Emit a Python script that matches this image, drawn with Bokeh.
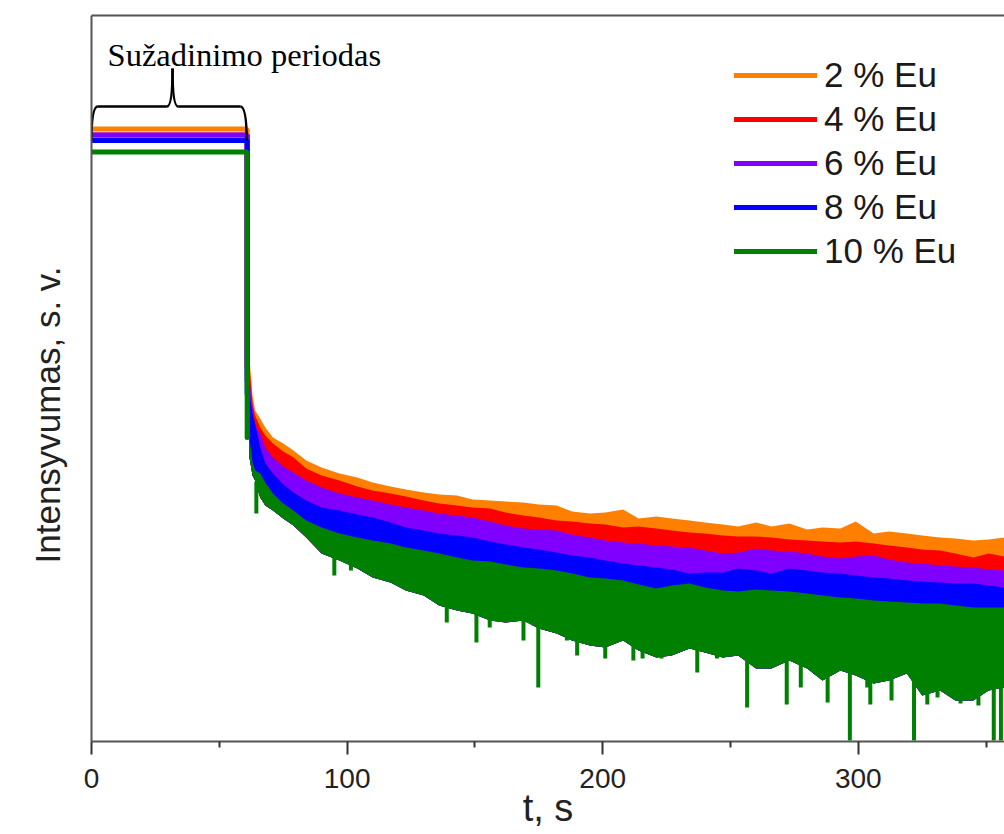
import numpy as np
from bokeh.plotting import figure
from bokeh.models import Range1d, FixedTicker, LinearAxis, Legend, LegendItem, Title
from bokeh.core.properties import value
from bokeh.embed import file_html
from bokeh.resources import INLINE

# ---------------- data (arbitrary intensity units) ----------------
series_names = ["2 % Eu", "4 % Eu", "6 % Eu", "8 % Eu", "10 % Eu"]
series_colors = ["#FF8000", "#FF0000", "#8000FF", "#0000FF", "#008000"]

# excitation period (lamp on)
t_excitation = [0.0, 60.9]
plateau_level = [611.5, 605.5, 605.5, 600.0, 588.5]

# afterglow decay, time in s
t_decay = [61.8, 63, 64, 66, 68, 71, 75, 79, 84, 90,
           97, 104, 110, 117, 123, 130, 136, 143, 149, 156,
           162, 169, 175, 182, 188, 195, 201, 208, 214, 221,
           227, 234, 240, 247, 253, 260, 266, 273, 280, 286,
           293, 299, 306, 312, 319, 325, 332, 338, 345, 351,
           357]

# upper noise envelope of each trace
eu2_top = [383, 345, 330, 322, 313, 303, 297, 290, 280, 273,
           267, 263, 258, 254, 251, 248, 246, 245, 241, 240,
           239, 238, 236, 235, 229, 227, 228, 231, 222, 224,
           222, 220, 218, 216, 214, 218, 214, 217, 211, 213,
           212, 219, 207, 209, 207, 205, 203, 202, 200, 201,
           203]
eu4_top = [373, 337, 325, 313, 305, 297, 289, 283, 272, 265,
           260, 254, 250, 247, 244, 240, 237, 235, 233, 232,
           228, 225, 223, 220, 219, 217, 216, 213, 214, 212,
           210, 208, 207, 205, 204, 204, 203, 201, 200, 199,
           198, 199, 197, 195, 193, 191, 190, 187, 183, 187,
           184]
eu6_top = [360, 333, 315, 307, 293, 283, 274, 268, 260, 253,
           247, 243, 240, 236, 233, 230, 227, 225, 223, 219,
           215, 212, 211, 210, 206, 203, 200, 198, 197, 195,
           194, 193, 190, 187, 188, 192, 190, 189, 187, 184,
           182, 184, 185, 181, 178, 177, 175, 174, 173, 171,
           170]
eu8_top = [347, 327, 317, 293, 277, 267, 256, 248, 240, 233,
           230, 226, 223, 218, 213, 210, 207, 205, 203, 199,
           196, 193, 191, 188, 185, 183, 180, 177, 175, 173,
           171, 167, 168, 168, 172, 170, 167, 172, 170, 168,
           167, 165, 163, 162, 160, 159, 158, 157, 157, 155,
           153]
eu10_top = [303, 278, 270, 267, 258, 247, 237, 230, 220, 213,
            207, 203, 200, 197, 193, 190, 187, 183, 180, 179,
            176, 173, 172, 170, 167, 163, 162, 160, 156, 152,
            155, 157, 153, 150, 149, 151, 150, 149, 147, 145,
            143, 142, 140, 139, 138, 137, 137, 135, 133, 133,
            133]
# lower noise envelope of the lowest trace (10 % Eu)
eu10_low = [283, 265, 260, 243, 235, 230, 222, 215, 203, 187,
            180, 172, 163, 158, 150, 145, 135, 130, 127, 120,
            118, 120, 112, 107, 100, 95, 93, 100, 90, 83,
            85, 92, 88, 83, 85, 72, 72, 80, 72, 60,
            70, 65, 57, 60, 67, 45, 50, 40, 40, 50,
            53]
# deep downward noise spikes of the 10 % Eu trace
eu10_spike_t = [64.5, 95, 101.5, 139, 150.6, 155.8, 169, 174.8, 186, 190,
                201, 212, 215.6, 223, 237, 244.7, 256.5, 272, 277.5, 288,
                296.7, 303.5, 304.7, 313, 321.8, 327, 331, 340, 347, 353,
                355.8]
eu10_spike_low = [227, 165, 170, 118, 98, 113, 100, 53, 100, 85,
                  82, 80, 82, 82, 68, 82, 33, 36, 53, 38,
                  0, 53, 36, 40, 0, 36, 43, 37, 35, 0,
                  0]

tops = [eu2_top, eu4_top, eu6_top, eu8_top, eu10_top]

# ---------------- figure ----------------
p = figure(width=1004, height=834, output_backend="svg", toolbar_location=None,
           x_range=Range1d(0, 357.2), y_range=Range1d(-1, 725),
           min_border_left=91, min_border_right=0, min_border_top=15,
           min_border_bottom=93)
p.outline_line_color = None
p.grid.visible = False
p.background_fill_color = "white"

frame_col = "#555555"
font = "Liberation Sans"
LW = 5

# bands of the decaying traces
for i in range(4):
    p.varea(x=t_decay, y1=eu10_low, y2=tops[i], fill_color=series_colors[i])

line_renderers = []
for i in range(4):
    xs = [t_excitation[0], t_excitation[1], t_excitation[1]]
    ys = [plateau_level[i], plateau_level[i], tops[i][0]]
    r = p.line(xs, ys, line_width=LW, line_color=series_colors[i], line_cap="round")
    line_renderers.append(r)

p.varea(x=t_decay, y1=eu10_low, y2=eu10_top, fill_color=series_colors[4])
spike_base = np.interp(eu10_spike_t, t_decay, eu10_low) + 3
p.segment(x0=eu10_spike_t, y0=spike_base, x1=eu10_spike_t, y1=eu10_spike_low,
          line_width=4, line_color=series_colors[4])
r = p.line([t_excitation[0], t_excitation[1], t_excitation[1]],
           [plateau_level[4], plateau_level[4], eu10_top[0]],
           line_width=LW, line_color=series_colors[4], line_cap="round")
line_renderers.append(r)

# curly brace marking the excitation period
bc = "black"
bw = 2.5
p.quadratic(x0=[0.0, 29.5, 31.7, 58.2], y0=[600, 634, 672, 634],
            x1=[2.5, 31.7, 33.9, 60.7], y1=[634, 672, 634, 600],
            cx=[0.0, 31.7, 31.7, 60.7], cy=[634, 634, 634, 634],
            line_color=bc, line_width=bw)
p.segment(x0=[2.5, 33.9], y0=[634, 634], x1=[29.5, 58.2], y1=[634, 634],
          line_color=bc, line_width=bw)
p.text(x=[6.3], y=[686], text=["Sužadinimo periodas"],
       text_font=value("Liberation Serif"), text_font_size="32.5px",
       text_baseline="alphabetic", text_align="left", text_color="black")

# legend
legend = Legend(items=[LegendItem(label=series_names[i], renderers=[line_renderers[i]])
                       for i in range(5)],
                location=(643, 470))
legend.background_fill_alpha = 0
legend.border_line_color = None
legend.padding = 0
legend.margin = 0
legend.spacing = 4
legend.glyph_width = 83
legend.glyph_height = 40
legend.label_height = 40
legend.label_standoff = 7
legend.label_text_font = font
legend.label_text_font_size = "35px"
legend.label_text_color = "#1a1a1a"
p.add_layout(legend)

# x axis
xa = p.xaxis[0]
xa.ticker = FixedTicker(ticks=[0, 100, 200, 300], minor_ticks=[50, 150, 250, 350])
xa.major_tick_in = 0
xa.major_tick_out = 13
xa.minor_tick_in = 0
xa.minor_tick_out = 6
xa.axis_line_width = 2
xa.axis_line_color = frame_col
xa.major_tick_line_width = 2
xa.minor_tick_line_width = 2
xa.major_tick_line_color = "#333333"
xa.minor_tick_line_color = "#333333"
xa.major_label_text_font = font
xa.major_label_text_font_size = "28px"
xa.major_label_text_color = "#222222"
xa.major_label_standoff = 14
xa.axis_label = "t, s"
xa.axis_label_text_font = font
xa.axis_label_text_font_size = "38px"
xa.axis_label_text_font_style = "normal"
xa.axis_label_text_color = "#222222"
xa.axis_label_standoff = -4

# y axis (no ticks)
ya = p.yaxis[0]
ya.ticker = FixedTicker(ticks=[])
ya.major_tick_out = 0
ya.major_tick_in = 0
ya.minor_tick_out = 0
ya.minor_tick_in = 0
ya.axis_line_width = 2
ya.axis_line_color = frame_col

# y title, placed off-centre as in the original
ytitle = Title(text="Intensyvumas, s. v.", align="left", offset=178, standoff=49,
               text_font=font, text_font_size="35px", text_font_style="normal",
               text_color="#222222")
p.add_layout(ytitle, "left")

# top frame line
top_axis = LinearAxis(ticker=FixedTicker(ticks=[]), major_tick_out=0, major_tick_in=0,
                      minor_tick_out=0, minor_tick_in=0, axis_line_width=2,
                      axis_line_color=frame_col, major_label_text_font_size="0px")
p.add_layout(top_axis, "above")

open("out.html", "w").write(file_html(p, INLINE))
